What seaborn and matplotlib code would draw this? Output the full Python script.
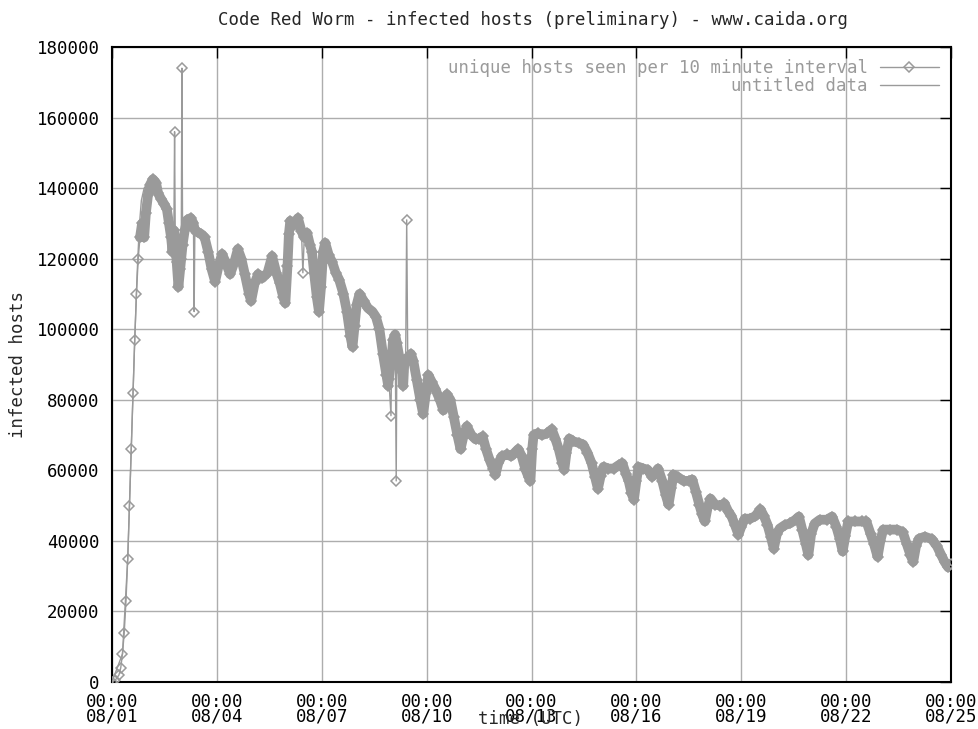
import numpy as np
import pandas as pd
import matplotlib
matplotlib.use("Agg")
import matplotlib.pyplot as plt
import seaborn as sns

# ---------------- data (days since 2001-08-01 00:00 UTC, infected hosts) ----------------
days = [
    0.00, 0.10, 0.20, 0.25, 0.30, 0.35, 0.40, 0.45, 0.50, 0.55, 0.60, 0.65, 0.70, 0.75, 0.80,
    0.86, 0.92, 0.97, 1.03, 1.09, 1.17, 1.26, 1.32, 1.40, 1.49, 1.57, 1.63, 1.69, 1.73, 1.77,
    1.79, 1.81, 1.85, 1.90, 1.95, 1.98, 2.00, 2.02, 2.08, 2.15, 2.25, 2.33, 2.35, 2.37, 2.45,
    2.55, 2.65, 2.75, 2.85, 2.95,
    3.05, 3.15, 3.25, 3.38, 3.50, 3.60, 3.70, 3.80, 3.92, 3.98,
    4.08, 4.18, 4.30, 4.45, 4.58, 4.70, 4.80, 4.90, 4.96,
    5.02, 5.06, 5.10, 5.20, 5.32, 5.42, 5.46, 5.50, 5.58, 5.66, 5.72, 5.78, 5.86, 5.92, 5.98,
    6.04, 6.10, 6.20, 6.30, 6.40, 6.50, 6.62, 6.72, 6.82, 6.88, 6.94,
    7.00, 7.08, 7.20, 7.32, 7.45, 7.55, 7.65, 7.75, 7.85, 7.90, 7.92, 7.98,
    8.00, 8.04, 8.10, 8.13, 8.15, 8.22, 8.30, 8.33, 8.36, 8.40, 8.43, 8.46, 8.55, 8.62, 8.72,
    8.82, 8.90, 8.98,
    9.05, 9.15, 9.25, 9.38, 9.48, 9.58, 9.68, 9.78, 9.88, 9.97,
    10.05, 10.15, 10.28, 10.40, 10.50, 10.60, 10.70, 10.80, 10.90, 10.97,
    11.05, 11.15, 11.30, 11.42, 11.52, 11.62, 11.72, 11.82, 11.92, 11.97,
    12.02, 12.06, 12.18, 12.30, 12.45, 12.58, 12.68, 12.78, 12.88, 12.94,
    13.00, 13.08, 13.20, 13.35, 13.48, 13.60, 13.72, 13.82, 13.90, 13.98,
    14.06, 14.20, 14.35, 14.50, 14.60, 14.70, 14.78, 14.86, 14.93,
    15.00, 15.06, 15.20, 15.32, 15.45, 15.62, 15.74, 15.84, 15.92,
    16.00, 16.06, 16.20, 16.35, 16.50, 16.60, 16.70, 16.80, 16.88, 16.96,
    17.04, 17.12, 17.25, 17.40, 17.52, 17.62, 17.72, 17.82, 17.92,
    18.00, 18.10, 18.25, 18.40, 18.55, 18.65, 18.75, 18.85, 18.93,
    19.02, 19.10, 19.25, 19.40, 19.55, 19.65, 19.75, 19.85, 19.92,
    20.00, 20.10, 20.25, 20.45, 20.60, 20.72, 20.82, 20.90, 20.98,
    21.06, 21.25, 21.45, 21.58, 21.70, 21.80, 21.90, 21.98,
    22.06, 22.25, 22.45, 22.62, 22.74, 22.84, 22.92,
    23.00, 23.08, 23.25, 23.45, 23.60, 23.72, 23.82, 23.92, 24.00,
]
hosts = [
    0, 600, 2000, 4000, 8000, 14000, 23000, 35000, 50000, 66000, 82000, 97000, 110000, 120000, 126000,
    130000, 126000, 133000, 138000, 141000, 142500, 141500, 138500, 137000, 135500, 134000, 130000, 126000, 122000, 128000,
    156000, 125000, 119000, 112000, 117000, 120000, 174000, 124000, 128000, 131000, 131500, 130000, 105000, 128000, 127500,
    127000, 126000, 122000, 117000, 113500,
    118000, 121300, 119000, 115600, 119000, 122700, 120000, 115600, 110000, 108000,
    113000, 115600, 114500, 116000, 120700, 116000, 113000, 109000, 107400,
    118000, 127000, 130700, 129500, 131500, 127800, 116000, 126000, 127300, 124000, 122000, 116000, 109000, 105000, 112000,
    122000, 124500, 121000, 119000, 116000, 114000, 110000, 105000, 98000, 95000, 101000,
    107000, 110000, 108000, 106000, 105000, 103500, 100000, 93000, 87000, 84000, 86000, 75500,
    92000, 97000, 98500, 57000, 96000, 92000, 88000, 84000, 90000, 91000, 131000, 92000, 93000, 91000, 85500,
    80000, 76000, 82000,
    87000, 85000, 83000, 80000, 77000, 81500, 80000, 75000, 70000, 66000,
    69500, 72500, 70000, 68800, 69000, 69600, 66000, 63000, 60500, 58800,
    62000, 64000, 64500, 64000, 65000, 66000, 64000, 60500, 58000, 57000,
    66000, 70000, 70500, 70000, 70500, 71600, 69000, 66000, 62000, 60200,
    65000, 69000, 68200, 67800, 67300, 65000, 62000, 58000, 54800, 58500,
    61000, 60500, 60500, 61500, 62000, 59000, 57000, 53500, 51700,
    57000, 61000, 60500, 60200, 58200, 60500, 57000, 53000, 50300,
    55000, 58800, 58000, 57000, 57000, 57400, 54000, 50300, 47500, 45500,
    49500, 52000, 50300, 50000, 50600, 48500, 47000, 44500, 41800,
    44000, 46300, 46300, 47000, 48900, 47000, 44600, 41000, 37800,
    42000, 43500, 44500, 45000, 46000, 46900, 43000, 39000, 36000,
    42000, 44900, 46000, 46000, 46900, 44000, 40500, 37000, 41500,
    45500, 45500, 45500, 45500, 42000, 39000, 35500, 40000,
    43200, 43200, 43200, 42500, 39000, 36000, 34100,
    38500, 40600, 41200, 40500, 38500, 36000, 34000, 32500, 33500,
]
# isolated one-interval outliers (drawn only as thin lines, not in the dense band)
spike_days = [1.79, 2.00, 2.35, 5.46, 7.98, 8.13, 8.43]
band_start_day = 0.78

# second series ("untitled data"): smooth growth curve of the first day
fit_days = [0.00, 0.30, 0.45, 0.55, 0.65, 0.72, 0.78, 0.84, 0.92, 1.00, 1.10]
fit_hosts = [0, 8000, 35000, 66000, 97000, 116000, 129000, 136500, 140000, 141000, 141500]

tick_days = [0, 3, 6, 9, 12, 15, 18, 21, 24]
y_ticks = [0, 20000, 40000, 60000, 80000, 100000, 120000, 140000, 160000, 180000]

title = "Code Red Worm - infected hosts (preliminary) - www.caida.org"
series_label = "unique hosts seen per 10 minute interval"
fit_label = "untitled data"
x_label = "time (UTC)"
y_label = "infected hosts"

# ---------------- build ----------------
start = pd.Timestamp("2001-08-01 00:00")
df = pd.DataFrame({"day": days, "hosts": hosts})
df["time"] = start + pd.to_timedelta(df["day"], unit="D")
band = df[(df["day"] >= band_start_day) & (~df["day"].isin(spike_days))]
fit = pd.DataFrame({"time": start + pd.to_timedelta(fit_days, unit="D"), "hosts": fit_hosts})
ticks = [start + pd.Timedelta(days=d) for d in tick_days]

sns.set_theme(style="white")
FS = 12.5
plt.rcParams["font.family"] = ["DejaVu Sans Mono"]
plt.rcParams["font.size"] = FS

W, H = 979, 729
fig = plt.figure(figsize=(W / 100, H / 100), dpi=100)
fig.patch.set_facecolor("white")
L, R, T, B = 112, 951, 47, 682
ax = fig.add_axes([L / W, 1 - B / H, (R - L) / W, (B - T) / H])
ax.set_facecolor("white")

gray = "#9a9a9a"
# dense band formed by the overlapping 10-minute samples
sns.lineplot(data=band, x="time", y="hosts", ax=ax, color=gray, linewidth=7,
             estimator=None, sort=False, legend=False, zorder=2,
             solid_capstyle="round", solid_joinstyle="round")
sns.lineplot(data=df, x="time", y="hosts", ax=ax, color=gray, linewidth=1.0,
             marker="D", markersize=5, markerfacecolor="none", markeredgecolor=gray,
             markeredgewidth=1.1, estimator=None, sort=False, label=series_label, zorder=3)
sns.lineplot(data=fit, x="time", y="hosts", ax=ax, color=gray, linewidth=1.0,
             estimator=None, sort=False, label=fit_label, zorder=4)

ax.set_xlim(ticks[0], ticks[-1])
ax.set_ylim(0, 180000)
ax.set_xticks(ticks)
ax.set_xticklabels([t.strftime("%H:%M\n%m/%d") for t in ticks], linespacing=0.72)
ax.set_yticks(y_ticks)
ax.set_yticklabels([str(v) for v in y_ticks])
ax.set_xlabel("")
ax.set_ylabel("")

ax.grid(True, color="#adadad", linewidth=1.0)
ax.set_axisbelow(True)
ax.tick_params(direction="in", length=8, width=1, top=True, right=True,
               colors="black", labelsize=FS, pad=9)
ax.tick_params(axis="x", pad=8)
for s in ax.spines.values():
    s.set_color("black")
    s.set_linewidth(1.5)
    s.set_visible(True)

leg = ax.legend(loc="upper right", frameon=False, markerfirst=False, handlelength=3.4,
                handletextpad=0.7, labelspacing=0.0, borderaxespad=0.3,
                fontsize=FS, labelcolor=gray)

fig.text(533 / W, 1 - 20 / H, title, ha="center", va="center", fontsize=FS)
fig.text(531 / W, 1 - 719 / H, x_label, ha="center", va="center", fontsize=FS)
fig.text(18 / W, 1 - 364 / H, y_label, ha="center", va="center", rotation=90, fontsize=FS)

fig.savefig("out.png", dpi=100)
